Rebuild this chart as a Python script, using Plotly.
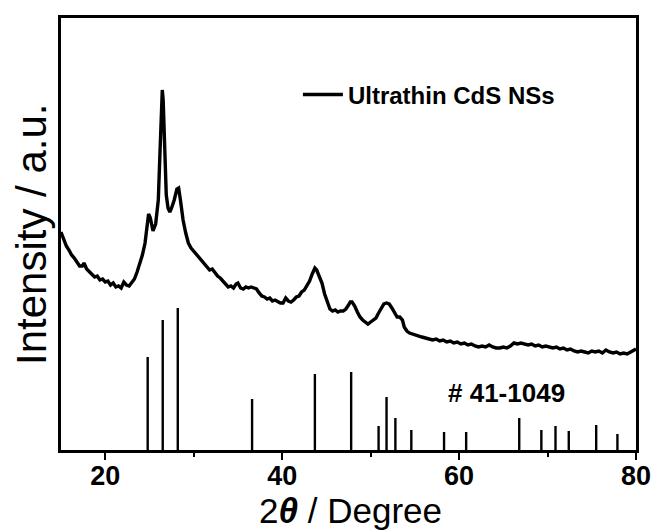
import plotly.graph_objects as go

# XRD pattern (2theta in degrees, intensity in arbitrary units)
two_theta = [15.0, 15.3, 15.6, 15.9, 16.2, 16.5, 16.8, 17.1, 17.4, 17.6, 17.9, 18.2, 18.5, 18.8, 19.1, 19.4,
             19.7, 20.0, 20.3, 20.6, 20.9, 21.2, 21.5, 21.8, 22.1, 22.4, 22.7, 23.0, 23.3, 23.6, 23.9, 24.2,
             24.5, 24.7, 24.9, 25.1, 25.4, 25.7, 26.0, 26.2, 26.35, 26.45, 26.55, 26.7, 26.9, 27.1, 27.3, 27.5,
             27.8, 28.1, 28.3, 28.5, 28.8, 29.1, 29.4, 29.7, 30.0, 30.3, 30.6, 30.9, 31.2, 31.5, 31.8, 32.1,
             32.4, 32.7, 33.0, 33.3, 33.6, 33.9, 34.2, 34.5, 34.8, 35.0, 35.3, 35.6, 35.9, 36.2, 36.5, 36.8,
             37.1, 37.4, 37.7, 38.0, 38.3, 38.6, 38.9, 39.2, 39.5, 39.8, 40.1, 40.4, 40.7, 41.0, 41.3, 41.6,
             41.9, 42.2, 42.5, 42.8, 43.1, 43.4, 43.7, 43.9, 44.2, 44.5, 44.8, 45.1, 45.4, 45.7, 46.0, 46.3,
             46.6, 46.9, 47.2, 47.5, 47.7, 47.9, 48.2, 48.5, 48.8, 49.1, 49.4, 49.7, 50.0, 50.3, 50.6, 50.9,
             51.2, 51.5, 51.8, 52.1, 52.4, 52.7, 53.0, 53.3, 53.6, 53.8, 54.1, 54.4, 54.7, 55.0, 55.4, 55.8,
             56.2, 56.6, 57.0, 57.4, 57.8, 58.2, 58.6, 59.0, 59.4, 59.8, 60.2, 60.6, 61.0, 61.4, 61.8, 62.2,
             62.6, 63.0, 63.4, 63.8, 64.2, 64.6, 65.0, 65.4, 65.8, 66.2, 66.6, 67.0, 67.4, 67.8, 68.2, 68.6,
             69.0, 69.4, 69.8, 70.2, 70.6, 71.0, 71.4, 71.8, 72.2, 72.6, 73.0, 73.4, 73.8, 74.2, 74.6, 75.0,
             75.4, 75.8, 76.2, 76.6, 77.0, 77.4, 77.8, 78.2, 78.6, 79.0, 79.4, 79.7, 80.0]
intensity = [218, 210, 204, 200, 195, 192, 188, 184, 184, 187, 181, 178, 176, 173, 174, 170,
             171, 168, 169, 165, 167, 163, 164, 162, 168, 165, 164, 167, 171, 178, 186, 195,
             207, 222, 236, 232, 219, 226, 250, 300, 345, 360, 350, 300, 255, 242, 238, 242,
             250, 261, 262, 250, 230, 217, 207, 202, 199, 195, 193, 190, 187, 184, 180, 181,
             177, 174, 172, 169, 167, 163, 164, 162, 166, 167, 162, 161, 163, 162, 163, 162,
             161, 157, 154, 153, 151, 152, 149, 150, 148, 147, 147, 152, 149, 148, 150, 153,
             154, 158, 160, 164, 169, 176, 182, 180, 174, 167, 156, 147, 141, 139, 140, 138,
             139, 139, 141, 145, 148, 148, 144, 138, 133, 130, 128, 126, 128, 130, 132, 137,
             142, 146, 147, 146, 142, 137, 133, 133, 130, 123, 119, 117, 116, 115, 114, 113,
             112, 111, 110, 111, 109, 110, 108, 109, 107, 108, 106, 107, 105, 106, 104, 103,
             104, 103, 105, 103, 102, 102, 103, 102, 104, 107, 106, 107, 106, 105, 106, 104,
             105, 103, 104, 103, 102, 103, 101, 102, 100, 101, 99, 98, 99, 98, 97, 99,
             98, 99, 97, 100, 98, 97, 98, 96, 97, 96, 98, 99, 101]

# Reference pattern JCPDS # 41-1049
ref_pos = [24.8, 26.5, 28.2, 36.6, 43.7, 47.8, 50.9, 51.8, 52.8, 54.6, 58.3, 60.8, 66.8, 69.3, 70.9, 72.4, 75.5, 77.9]
ref_int = [93, 130, 142, 51, 76, 78, 24, 53, 32, 20, 18, 18, 32, 20, 24, 19, 25, 16]

x_ticks = [20, 40, 60, 80]
series_name = "Ultrathin CdS NSs"
ref_label = "# 41-1049"
x_title = "2<b><i>θ</i></b> / Degree"
y_title = "Intensity / a.u."

FONT = "Liberation Sans, Arial, sans-serif"
L, R, T, B = 61, 20, 18, 80
PW, PH = 656 - L - R, 530 - T - B

fig = go.Figure()

# reference sticks
sx, sy = [], []
for p, h in zip(ref_pos, ref_int):
    sx += [p, p, None]
    sy += [0, h, None]
fig.add_trace(go.Scatter(x=sx, y=sy, mode="lines", line=dict(color="black", width=2.4),
                         showlegend=False, hoverinfo="skip"))

fig.add_trace(go.Scatter(x=two_theta, y=intensity, mode="lines", name=series_name,
                         line=dict(color="black", width=3.4)))

fig.add_annotation(x=(506 - L) / PW, y=(450 - 393) / PH, xref="paper", yref="paper",
                   text="<b>" + ref_label + "</b>", showarrow=False,
                   font=dict(family=FONT, size=26, color="black"), xanchor="center", yanchor="middle")
fig.add_annotation(x=(350 - L) / PW, y=(450 - 531) / PH, xref="paper", yref="paper",
                   text=x_title, showarrow=False,
                   font=dict(family=FONT, size=35, color="black"), xanchor="center", yanchor="bottom",
                   borderpad=0)
fig.add_annotation(x=(31 - L) / PW, y=(450 - 235) / PH, xref="paper", yref="paper",
                   text=y_title, showarrow=False, textangle=-90,
                   font=dict(family=FONT, size=42, color="black"), xanchor="center", yanchor="middle")

fig.update_layout(
    width=656, height=530,
    margin=dict(l=L, r=R, t=T, b=B, autoexpand=False),
    paper_bgcolor="white", plot_bgcolor="white",
    showlegend=True,
    legend=dict(x=0.412, y=0.822, xanchor="left", yanchor="middle", bgcolor="rgba(0,0,0,0)",
                font=dict(family=FONT, size=24, color="black", weight="bold"), itemwidth=40),
    font=dict(family=FONT, color="black"),
)

fig.update_xaxes(range=[15, 80], tickvals=x_ticks, ticktext=[str(t) for t in x_ticks],
                 showgrid=False, zeroline=False, showline=True, linecolor="black", linewidth=2.5,
                 mirror=True, ticks="outside", ticklen=7, tickwidth=2, tickcolor="black",
                 ticklabelstandoff=-7,
                 minor=dict(tickvals=[30, 50, 70], ticks="outside", ticklen=4, tickwidth=2, tickcolor="black"),
                 tickfont=dict(family=FONT, size=27, color="black", weight="bold"), automargin=False)
fig.update_yaxes(range=[0, 432], showticklabels=False, ticks="", showgrid=False, zeroline=False,
                 showline=True, linecolor="black", linewidth=2.5, mirror=True, automargin=False)

fig.write_html("out.html")
